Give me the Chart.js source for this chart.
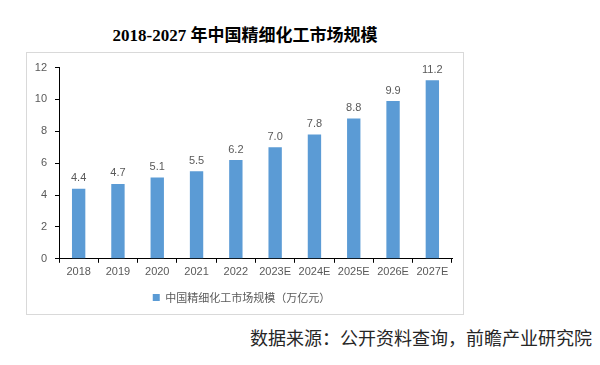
<!DOCTYPE html>
<html>
<head>
<meta charset="utf-8">
<script src="https://cdn.jsdelivr.net/npm/chart.js@4/dist/chart.umd.min.js"></script>
<style>
  body { margin: 0; width: 600px; height: 365px; background: #fff; position: relative; overflow: hidden; }
  #title { position: absolute; left: 0; width: 490px; top: 21px; text-align: center;
    font: bold 17px "Liberation Serif", "Noto Sans CJK SC", serif; color: #000; }
  #box { position: absolute; left: 26px; top: 52px; width: 436px; height: 261px; border: 1px solid #d9d9d9; }
  #source { position: absolute; right: 8px; top: 324px; font: 18px "Noto Sans CJK SC", sans-serif; color: #262626; }
</style>
</head>
<body>
<div id="title">2018-2027 年中国精细化工市场规模</div>
<div id="box"><canvas id="chart" width="436" height="261"></canvas></div>
<div id="source">数据来源：公开资料查询，前瞻产业研究院</div>
<script>
const years = ['2018', '2019', '2020', '2021', '2022', '2023E', '2024E', '2025E', '2026E', '2027E'];
const marketSize = [4.4, 4.7, 5.1, 5.5, 6.2, 7.0, 7.8, 8.8, 9.9, 11.2];
const yTicks = [0, 2, 4, 6, 8, 10, 12];
const seriesName = '中国精细化工市场规模（万亿元）';

const valueLabels = {
  id: 'valueLabels',
  afterDatasetsDraw(chart) {
    const ctx = chart.ctx;
    const meta = chart.getDatasetMeta(0);
    ctx.save();
    ctx.font = '11px "Liberation Sans", "Noto Sans", sans-serif';
    ctx.fillStyle = '#595959';
    ctx.textAlign = 'center';
    ctx.textBaseline = 'bottom';
    meta.data.forEach((bar, i) => {
      ctx.fillText(marketSize[i].toFixed(1), bar.x, bar.y - 5);
    });
    ctx.restore();
  }
};

new Chart(document.getElementById('chart'), {
  type: 'bar',
  data: {
    labels: years,
    datasets: [{
      label: seriesName,
      data: marketSize,
      backgroundColor: '#5b9bd5',
      barPercentage: 0.34,
      categoryPercentage: 1
    }]
  },
  options: {
    responsive: false,
    animation: false,
    layout: { padding: { left: 4, right: 11, top: 5, bottom: 1 } },
    plugins: {
      legend: {
        position: 'bottom',
        labels: {
          boxWidth: 7, boxHeight: 7, padding: 10,
          color: '#595959',
          font: { size: 11, family: '"Noto Sans CJK SC", sans-serif' }
        }
      },
      tooltip: { enabled: false }
    },
    scales: {
      x: {
        border: { color: '#000', width: 1 },
        grid: { drawOnChartArea: false, color: '#000', tickLength: 4, offset: true },
        ticks: { color: '#595959', padding: 3, font: { size: 11, family: '"Liberation Sans", sans-serif' }, maxRotation: 0 }
      },
      y: {
        min: 0, max: 12,
        afterBuildTicks: scale => { scale.ticks = yTicks.map(v => ({ value: v })); },
        afterFit: scale => { scale.width = 28; },
        border: { color: '#000', width: 1 },
        grid: { drawOnChartArea: false, color: '#000', tickLength: 4 },
        ticks: { color: '#595959', padding: 8, font: { size: 11, family: '"Liberation Sans", sans-serif' } }
      }
    }
  },
  plugins: [valueLabels]
});
</script>
</body>
</html>
